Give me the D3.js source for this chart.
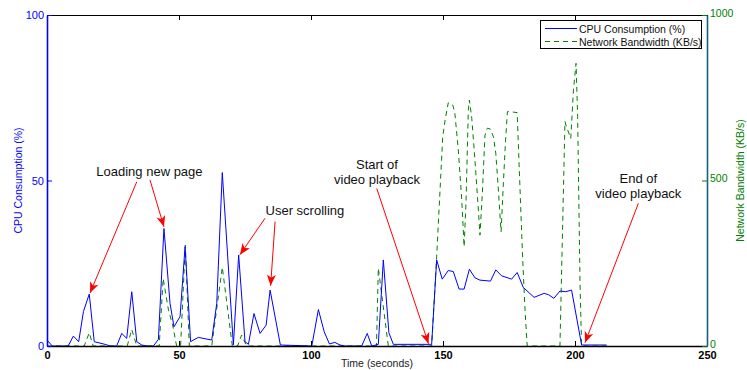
<!DOCTYPE html>
<html><head><meta charset="utf-8">
<script src="https://cdn.jsdelivr.net/npm/d3@7"></script>
<style>
body{margin:0;background:#fff;}
svg{display:block;font-family:"Liberation Sans",Arial,sans-serif;}
</style></head>
<body><svg id="c" width="747" height="370"></svg>
<script>
// ---- data ----
const cpuTime  = [0,2,8,10,12,13.8,16,17.9,22,24,26.4,28.3,30.2,32.1,34,35.9,38,40.3,42.2,44.3,46.6,48.1,50.4,52.3,54.4,57.3,62.4,64.3,66.4,70.6,72.6,75,76.3,78.4,80.7,83,84.5,88.4,100.3,102.8,105,107,109,111,113,119.2,121.3,123,125.5,127.4,129.5,131.2,145,145.7,147.6,149.7,152,153.9,156.1,158,160,162.1,164,168,170,172.2,176,178.1,180.4,184.5,188.3,190,192,194.3,196.5,198.7,202.5,212];
const cpuValue = [1.8,0,0,3,1.3,10.4,15.7,1.3,0.5,0,0,3.8,2.3,16.4,1.3,0.3,0,0,2,35.5,12.9,5.8,8.9,30,1.3,2.6,1.8,12.9,52.4,0.3,27.5,1.3,0.5,9.8,3.8,6.3,16.9,0.3,0,11,4.3,0.6,1.1,0.3,0,0,3.8,0,0.5,26,4,0.5,0.5,0.5,26,20.2,22.8,22.5,17.2,17.2,23.2,20.6,19.9,19.6,23,21.2,20.2,22.2,17.7,14.7,15.9,15.5,14.4,16.6,16.4,16.9,0.3,0.3];
const netTime  = [0,14.1,16,17.5,30.4,32.1,34,42.5,44,46,47.6,49.1,50.6,52.4,53.9,62.4,66.4,70.2,72.2,73.7,75.6,124.8,125.5,129.3,145.7,147.6,149.9,150.8,152,153.7,154.5,155.8,157.1,158,158.7,159.6,160,160.9,162.1,163.4,164,164.9,165.9,166.8,168,169.1,170,170.9,172,172.8,173.7,174.4,175.4,178.1,178.9,180.2,181.1,181.9,194.3,196.2,196.8,198.4,199.4,200.4,201,201.9,202.5,212];
const netValue = [0,0,40,0,0,50,0,0,204,109,63,0,0,305,0,0,238,0,0,33,0,0,235,0,0,270,632,683,735,728,703,592,441,300,431,713,743,688,562,411,335,461,637,658,655,632,582,481,345,481,622,708,708,705,532,260,104,0,0,678,662,627,773,854,693,190,0,0];
const xTicks = [0,50,100,150,200,250];
const cpuTicks = [0,50,100];
const netTicks = [0,500,1000];
const seriesNames = ["CPU Consumption (%)","Network Bandwidth (KB/s)"];
// annotations in data units (seconds, CPU %)
const notes = [
  {lines:["Loading new page"], t:38.8, v:51.4},
  {lines:["User scrolling"], t:97.7, v:39.6},
  {lines:["Start of","video playback"], t:125, v:53.5},
  {lines:["End of","video playback"], t:224, v:49.2}
];
const arrows = [
  {t0:34,v0:49.6,t1:16.3,v1:16.0},
  {t0:39,v0:50.2,t1:44.3,v1:36.0},
  {t0:82.6,v0:38.6,t1:73.1,v1:27.6},
  {t0:86.4,v0:37.6,t1:84.7,v1:18.2},
  {t0:124.9,v0:47.6,t1:144.5,v1:0.7},
  {t0:224,v0:43.1,t1:203.8,v1:1.0}
];

// ---- layout ----
const L=47,R=707,T=15,B=346;
const svg=d3.select("#c");
const x=d3.scaleLinear().domain([0,250]).range([L,R]);
const yL=d3.scaleLinear().domain([0,100]).range([B,T]);
const yR=d3.scaleLinear().domain([0,1000]).range([B,T]);
const BLUE="#0000ff", GREEN="#008000", AX2="#1b5f7e";

svg.append("defs").append("marker").attr("id","ah").attr("viewBox","-12 -6 14 12")
  .attr("refX",0).attr("refY",0).attr("markerWidth",14).attr("markerHeight",12)
  .attr("markerUnits","userSpaceOnUse").attr("orient","auto")
  .append("path").attr("d","M0,0 L-11,-4.5 L-8,0 L-11,4.5 Z").attr("fill","#ff0000");

// top frame line
svg.append("line").attr("x1",L).attr("x2",R).attr("y1",T+0.5).attr("y2",T+0.5).attr("stroke","#000");
// top ticks
svg.append("g").attr("transform",`translate(0,${T})`)
  .call(d3.axisTop(x).tickValues(xTicks).tickSize(-5).tickFormat(""))
  .call(g=>g.select(".domain").remove())
  .selectAll("line").attr("stroke","#000");

// series
const cpu=cpuTime.map((t,i)=>[t,cpuValue[i]]);
const net=netTime.map((t,i)=>[t,netValue[i]]);
svg.append("path").datum(net).attr("fill","none").attr("stroke",GREEN).attr("stroke-width",1)
  .attr("stroke-dasharray","5,4")
  .attr("d",d3.line().x(d=>x(d[0])).y(d=>yR(d[1])));
svg.append("path").datum(cpu).attr("fill","none").attr("stroke",BLUE).attr("stroke-width",1)
  .attr("d",d3.line().x(d=>x(d[0])).y(d=>yL(d[1])));

// bottom axis
const gx=svg.append("g").attr("transform",`translate(0,${B})`)
  .call(d3.axisBottom(x).tickValues(xTicks).tickSize(-5).tickSizeOuter(0).tickPadding(5).tickFormat(d3.format("d")));
gx.select(".domain").attr("stroke","#000").attr("stroke-width",1.5);
gx.selectAll("line").attr("stroke","#000");
gx.selectAll("text").attr("font-size",11).attr("font-weight","bold").attr("fill","#000")
  .attr("font-family","Liberation Sans, Arial, sans-serif");

// left axis
const gl=svg.append("g").attr("transform",`translate(${L},0)`)
  .call(d3.axisLeft(yL).tickValues(cpuTicks).tickSize(-5).tickSizeOuter(0).tickPadding(3).tickFormat(d3.format("d")));
gl.select(".domain").attr("stroke",BLUE).attr("stroke-width",1.6);
gl.selectAll("line").attr("stroke",BLUE);
gl.selectAll("text").attr("font-size",11).attr("fill",BLUE).attr("font-family","Liberation Sans, Arial, sans-serif");

// right axis
const gr=svg.append("g").attr("transform",`translate(${R},0)`)
  .call(d3.axisRight(yR).tickValues(netTicks).tickSize(-5).tickSizeOuter(0).tickPadding(3).tickFormat(d3.format("d")));
gr.select(".domain").attr("stroke",AX2).attr("stroke-width",1.6);
gr.selectAll("line").attr("stroke",GREEN);
gr.selectAll("text").attr("font-size",10.5).attr("fill",GREEN).attr("dy","0.12em")
  .attr("font-family","Liberation Sans, Arial, sans-serif");

// axis titles
svg.append("text").attr("x",(L+R)/2).attr("y",367).attr("text-anchor","middle")
  .attr("font-size",10.5).attr("fill","#222").text("Time (seconds)");
svg.append("text").attr("transform",`translate(22,${(T+B)/2}) rotate(-90)`).attr("text-anchor","middle")
  .attr("font-size",10.5).attr("fill",BLUE).text("CPU Consumption (%)");
svg.append("text").attr("transform",`translate(744,${(T+B)/2}) rotate(-90)`).attr("text-anchor","middle")
  .attr("font-size",10.5).attr("fill",GREEN).text("Network Bandwidth (KB/s)");

// annotations
arrows.forEach(a=>{
  svg.append("line").attr("x1",x(a.t0)).attr("y1",yL(a.v0)).attr("x2",x(a.t1)).attr("y2",yL(a.v1))
    .attr("stroke","#ff0000").attr("stroke-width",1).attr("marker-end","url(#ah)");
});
notes.forEach(n=>{
  const tx=svg.append("text").attr("x",x(n.t)).attr("y",yL(n.v)).attr("text-anchor","middle")
    .attr("font-size",13).attr("fill","#111");
  n.lines.forEach((s,i)=>tx.append("tspan").attr("x",x(n.t)).attr("dy",i?15.3:0).text(s));
});

// legend
const lg=svg.append("g");
lg.append("rect").attr("x",540.5).attr("y",20.5).attr("width",161).attr("height",28)
  .attr("fill","#fff").attr("stroke","#000").attr("stroke-width",1);
lg.append("line").attr("x1",545).attr("x2",577).attr("y1",28.5).attr("y2",28.5).attr("stroke",BLUE);
lg.append("line").attr("x1",545).attr("x2",577).attr("y1",41.5).attr("y2",41.5).attr("stroke",GREEN).attr("stroke-dasharray","5,4");
lg.append("text").attr("x",579).attr("y",32.5).attr("font-size",10.5).attr("fill","#111").text(seriesNames[0]);
lg.append("text").attr("x",579).attr("y",45.5).attr("font-size",10.5).attr("fill","#111").text(seriesNames[1]);
</script></body></html>
